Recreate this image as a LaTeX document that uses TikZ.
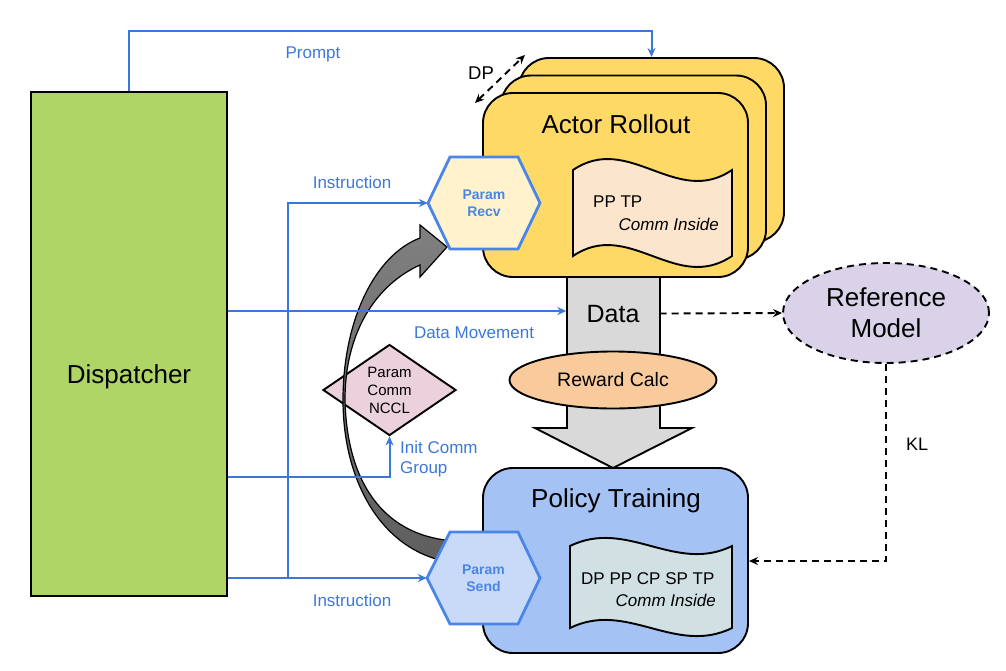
\documentclass[tikz,border=0pt]{standalone}
\usepackage{fontspec}
\setmainfont{Liberation Sans}
\usetikzlibrary{arrows.meta,shapes.geometric}
\definecolor{dispgreen}{HTML}{AED566}
\definecolor{actoryellow}{HTML}{FFD966}
\definecolor{recvfill}{HTML}{FFF2CC}
\definecolor{doconefill}{HTML}{FCE5CD}
\definecolor{ncclfill}{HTML}{EAD1DC}
\definecolor{datagray}{HTML}{D9D9D9}
\definecolor{rewardfill}{HTML}{F9CB9C}
\definecolor{reffill}{HTML}{D9D2E9}
\definecolor{policyfill}{HTML}{A4C2F4}
\definecolor{sendfill}{HTML}{C9DAF8}
\definecolor{doctwofill}{HTML}{D0E0E3}
\definecolor{lineblue}{HTML}{3C78D8}
\definecolor{hexblue}{HTML}{4A86E8}
\begin{document}
\begin{tikzpicture}[x=1pt,y=-1pt,
  outl/.style={draw=black,line width=1.9pt},
  bigtxt/.style={font=\fontsize{26}{31}\selectfont, inner sep=0pt},
  midtxt/.style={font=\fontsize{17}{20}\selectfont, inner sep=0pt},
  bluelbl/.style={font=\fontsize{17}{20}\selectfont, text=lineblue, inner sep=0pt},
  bline/.style={draw=lineblue, line width=2pt, -{Stealth[length=9pt,width=8pt]}},
  dline/.style={draw=black, line width=1.9pt, dash pattern=on 7pt off 5pt, -{Stealth[length=9pt,width=8pt]}},
  actorbox/.style={outl, rounded corners=30pt, minimum width=265pt, minimum height=184pt, inner sep=0pt},
  hexnode/.style={minimum width=112pt, minimum height=92pt, inner sep=0pt, align=center, text=hexblue, font=\fontsize{14}{17}\selectfont\bfseries},
  hexline/.style={draw=hexblue, line width=2.8pt, line join=miter}
]
\useasboundingbox (0,0) rectangle (1006,670);

% Dispatcher
\node[outl, fill=dispgreen, minimum width=196pt, minimum height=504pt, inner sep=0pt] (disp) at (129,344) {};
\node[bigtxt, anchor=base] (disptxt) at (129,383) {Dispatcher};

% Actor rollout stack
\node[actorbox, fill=actoryellow] (back) at (651.5,150) {};
\node[actorbox, fill=actoryellow] (middle) at (633.5,167.5) {};
\node[actorbox, fill=actoryellow] (front) at (615.5,185) {};
\node[bigtxt, anchor=base] (actortxt) at (616,133) {Actor Rollout};

% Prompt
\draw[bline] (disp.north) -- ++(0,-60) -| (back.north);
\node[bluelbl, anchor=base] (prompttxt) at (313,58) {Prompt};

% Data big arrow
\draw[outl, fill=datagray] (567,277) -- (660,277) -- (660,428) -- (692,428) -- (613,468) -- (535,428) -- (567,428) -- cycle;
\node[anchor=base, font=\fontsize{25}{30}\selectfont, inner sep=0pt, minimum width=93pt] (data) at (613,322) {Data};
\node[outl, ellipse, fill=rewardfill, minimum width=207pt, minimum height=57pt, inner sep=0pt, font=\fontsize{19.5}{23}\selectfont] (reward) at (613,380) {Reward Calc};

% Policy training
\node[actorbox, fill=policyfill, minimum height=185pt] (policy) at (615.5,560.5) {};
\node[bigtxt, anchor=base] (policytxt) at (616,507) {Policy Training};

% Documents
\draw[outl, fill=doconefill] (573,170) .. controls (629,132) and (676,208) .. (732,170) -- (732,256) .. controls (676,294) and (629,218) .. (573,256) -- cycle;
\node[midtxt, anchor=base west] (doc1a) at (593,207) {PP TP};
\node[midtxt, anchor=base east, font=\fontsize{17}{20}\selectfont\itshape] (doc1b) at (719,230) {Comm Inside};

\draw[outl, fill=doctwofill] (570,546) .. controls (627,518) and (675,574) .. (732,546) -- (732,628) .. controls (675,656) and (627,600) .. (570,628) -- cycle;
\node[midtxt, anchor=base west] (doc2a) at (581,584) {DP PP CP SP TP};
\node[midtxt, anchor=base east, font=\fontsize{17}{20}\selectfont\itshape] (doc2b) at (716,606) {Comm Inside};

% NCCL diamond
\node[outl, diamond, fill=ncclfill, minimum width=133pt, minimum height=91pt, inner sep=0pt, align=center, font=\fontsize{15}{18}\selectfont] (nccl) at (389.5,390) {Param\\Comm\\NCCL};

% Curved gray arrow
\draw[draw=black, line width=1.2pt, top color=black!50, bottom color=black!63]
  (440,560) .. controls (380,545) and (343,480) .. (343,400)
  .. controls (343,320) and (375,255) .. (420,238)
  -- (420,225) -- (447,247) -- (420,277) -- (420,265)
  .. controls (382,282) and (345,325) .. (345,400)
  .. controls (347,485) and (385,532) .. (445,540) -- cycle;

% Hexagons
\draw[hexline, fill=recvfill] (428,203) -- (450,157) -- (518,157) -- (540,203) -- (518,249) -- (450,249) -- cycle;
\node[hexnode] (recv) at (484,203) {Param\\Recv};
\draw[hexline, fill=sendfill] (427,578) -- (450,532) -- (518,532) -- (540,578) -- (518,624) -- (450,624) -- cycle;
\node[hexnode, minimum width=113pt] (send) at (483.5,578) {Param\\Send};

% Blue connectors
\coordinate (junc) at (288,578);
\draw[bline] (disp.east |- send.west) -- (send.west);
\draw[bline] (junc) |- (recv.west);
\draw[bline] (disp.east |- 0,311) -- (data.west |- 0,311);
\draw[bline] (disp.east |- 0,477) -| (nccl.south);

\node[bluelbl, anchor=base] (instr1) at (352,188) {Instruction};
\node[bluelbl, anchor=base] (instr2) at (352,606) {Instruction};
\node[bluelbl, anchor=base] (dmtxt) at (474,338) {Data Movement};
\node[bluelbl, anchor=west, align=left] (inittxt) at (400,459) {Init Comm\\Group};

% Reference model
\node[ellipse, draw=black, line width=1.9pt, dash pattern=on 7pt off 5pt, fill=reffill, minimum width=206pt, minimum height=100pt, inner sep=0pt, align=center, font=\fontsize{26}{31}\selectfont] (ref) at (886,313) {Reference\\Model};
\draw[dline] (data.east) -- (ref.west);
\draw[dline] (ref.south) |- (policy.east |- 0,561);
\node[anchor=base, font=\fontsize{18}{21}\selectfont, inner sep=0pt] (kltxt) at (917,450) {KL};

% DP
\coordinate (dpa) at (475,103);
\coordinate (dpb) at (525,55);
\draw[dline, {Stealth[length=9pt,width=8pt]}-{Stealth[length=9pt,width=8pt]}] (dpa) -- (dpb);
\node[anchor=base, font=\fontsize{18.5}{22}\selectfont, inner sep=0pt] (dptxt) at (481,79) {DP};
\end{tikzpicture}
\end{document}
